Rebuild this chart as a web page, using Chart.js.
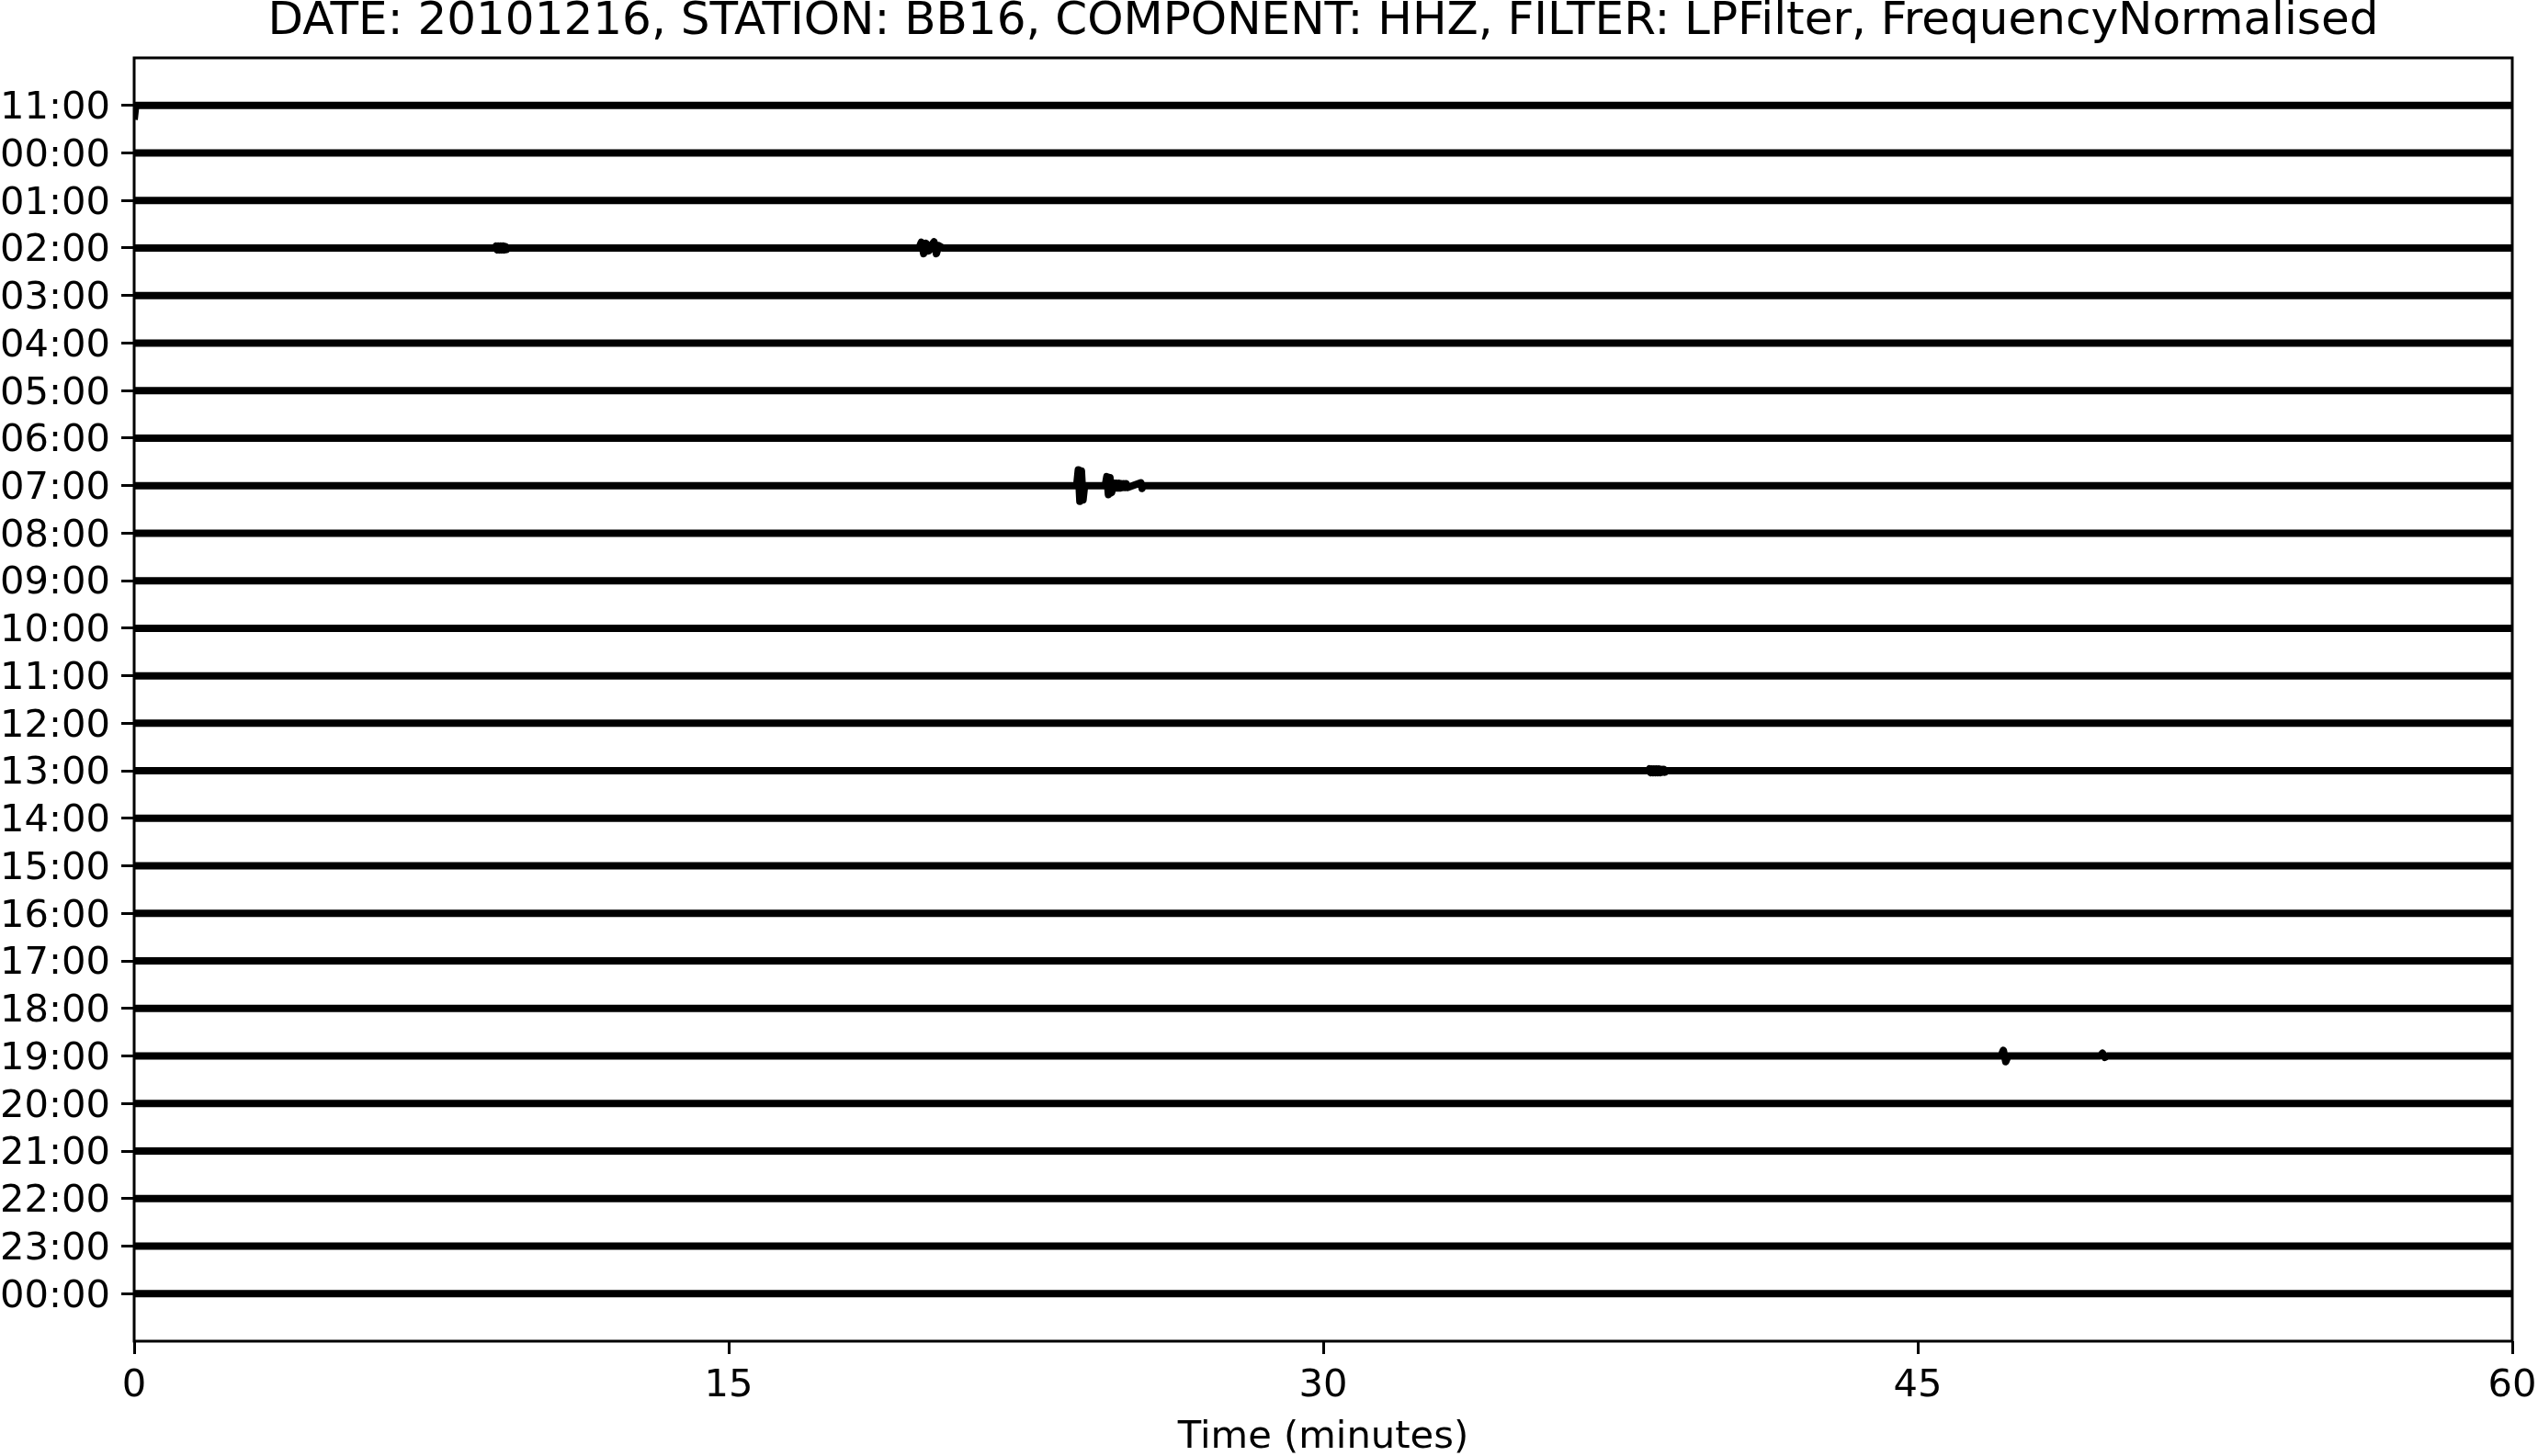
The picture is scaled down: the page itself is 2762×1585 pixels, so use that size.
<!DOCTYPE html>
<html>
<head>
<meta charset="utf-8">
<script src="https://cdn.jsdelivr.net/npm/chart.js@4.4.1/dist/chart.umd.min.js"></script>
<style>
  html, body { margin: 0; padding: 0; background: #ffffff; }
  #wrap { width: 2762px; height: 1585px; position: relative; }
</style>
</head>
<body>
<div id="wrap"><canvas id="c" width="2762" height="1585"></canvas></div>
<script>
// ---- data ----
const chartTitle = 'DATE: 20101216, STATION: BB16, COMPONENT: HHZ, FILTER: LPFilter, FrequencyNormalised';
const xAxisTitle = 'Time (minutes)';
const hourLabels = ['11:00','00:00','01:00','02:00','03:00','04:00','05:00','06:00','07:00','08:00',
  '09:00','10:00','11:00','12:00','13:00','14:00','15:00','16:00','17:00','18:00','19:00','20:00',
  '21:00','22:00','23:00','00:00'];
const minuteTicks = [0, 15, 30, 45, 60];
const traceStart = 0;
const traceEnd = 60;
// visible wiggles: [minute, amplitude in trace-spacing units (+ = upward)]
const wiggle1100 = [[0.00, -0.30], [0.04, 0.00]];
const wiggle0200 = [[9.10, 0.00], [9.13, 0.04], [9.16, -0.04], [9.19, 0.04], [9.22, -0.04], [9.25, 0.04],
  [9.28, -0.04], [9.31, 0.04], [9.34, -0.04], [9.37, 0.03], [9.40, -0.03], [9.43, 0.00],
  [19.80, 0.00], [19.86, 0.12], [19.92, -0.12], [19.98, 0.10], [20.05, -0.06],
  [20.12, 0.06], [20.18, 0.13], [20.24, -0.12], [20.30, 0.05], [20.40, 0.00]];
const wiggle0700 = [[23.78, 0.00], [23.82, 0.33], [23.86, -0.33], [23.90, 0.31], [23.94, -0.30], [23.98, 0.00],
  [24.50, 0.00], [24.54, 0.19], [24.58, -0.19], [24.62, 0.17], [24.66, -0.15], [24.70, 0.00],
  [24.73, 0.05], [24.76, -0.05], [24.79, 0.05], [24.82, -0.05], [24.85, 0.05], [24.88, -0.05],
  [24.91, 0.04], [24.94, -0.04], [24.97, 0.04], [25.00, -0.04], [25.03, 0.04], [25.06, -0.04],
  [25.40, 0.06], [25.43, -0.06], [25.46, 0.00], [25.90, 0.00]];
const wiggle1300 = [[38.20, 0.00], [38.23, 0.04], [38.26, -0.04], [38.29, 0.04], [38.32, -0.04], [38.35, 0.04],
  [38.38, -0.04], [38.41, 0.04], [38.44, -0.04], [38.47, 0.04], [38.50, -0.04], [38.53, 0.03],
  [38.56, -0.03], [38.59, 0.03], [38.62, -0.03], [38.65, 0.00]];
const wiggle1900 = [[47.10, 0.00], [47.16, 0.12], [47.22, -0.12], [47.28, 0.00],
  [49.60, 0.00], [49.66, 0.06], [49.72, -0.03], [49.78, 0.00]];

// ---- build datasets ----
const wigglesByTrace = { 0: wiggle1100, 3: wiggle0200, 8: wiggle0700, 14: wiggle1300, 20: wiggle1900 };

const datasets = hourLabels.map((lab, i) => {
  const w = wigglesByTrace[i] || [];
  const pts = [];
  if (!w.length || w[0][0] > traceStart) pts.push({ x: traceStart, y: i });
  w.forEach(([m, a]) => pts.push({ x: m, y: i - a }));
  pts.push({ x: traceEnd, y: i });
  return {
    label: lab,
    data: pts,
    borderColor: '#000000',
    backgroundColor: '#000000',
    borderWidth: 8,
    pointRadius: 0,
    tension: 0,
    fill: false,
    borderJoinStyle: 'round',
    borderCapStyle: 'butt'
  };
});

const framePlugin = {
  id: 'frame',
  afterDraw(chart) {
    const { ctx, chartArea: a } = chart;
    ctx.save();
    ctx.strokeStyle = '#000000';
    ctx.lineWidth = 3;
    ctx.strokeRect(a.left, a.top, a.right - a.left, a.bottom - a.top);
    ctx.restore();
  }
};

const FONT = "'DejaVu Sans', sans-serif";

new Chart(document.getElementById('c'), {
  type: 'line',
  data: { datasets },
  plugins: [framePlugin],
  options: {
    responsive: false,
    animation: false,
    events: [],
    layout: { padding: { left: 0, right: 28, top: 0, bottom: 0 } },
    plugins: {
      legend: { display: false },
      tooltip: { enabled: false },
      title: {
        display: true,
        fullSize: false,
        text: chartTitle,
        color: '#000000',
        font: { family: FONT, size: 50, weight: 'normal', lineHeight: 0.86 },
        padding: { top: 3, bottom: 17 }
      }
    },
    scales: {
      x: {
        type: 'linear',
        min: traceStart,
        max: traceEnd,
        afterBuildTicks: (s) => { s.ticks = minuteTicks.map(v => ({ value: v })); },
        afterFit: (s) => { s.height = 125; s.paddingLeft = 0; s.paddingRight = 0; },
        ticks: {
          color: '#000000',
          font: { family: FONT, size: 41.67 },
          padding: 10,
          maxRotation: 0,
          autoSkip: false
        },
        grid: { display: true, drawOnChartArea: false, drawTicks: true, tickLength: 14, tickWidth: 3, color: '#000000' },
        border: { display: false },
        title: {
          display: true,
          text: xAxisTitle,
          color: '#000000',
          font: { family: FONT, size: 41.67, lineHeight: 0.85 },
          padding: { top: 0, bottom: 1.8 }
        }
      },
      y: {
        type: 'linear',
        reverse: true,
        min: -1,
        max: hourLabels.length,
        afterBuildTicks: (s) => { s.ticks = hourLabels.map((_, i) => ({ value: i })); },
        afterFit: (s) => { s.width = 146; s.paddingTop = 0; s.paddingBottom = 0; },
        ticks: {
          color: '#000000',
          font: { family: FONT, size: 41.67 },
          padding: 12,
          labelOffset: 3.5,
          autoSkip: false,
          callback: (v) => hourLabels[v]
        },
        grid: { display: true, drawOnChartArea: false, drawTicks: true, tickLength: 14, tickWidth: 3, color: '#000000' },
        border: { display: false }
      }
    }
  }
});
</script>
</body>
</html>
